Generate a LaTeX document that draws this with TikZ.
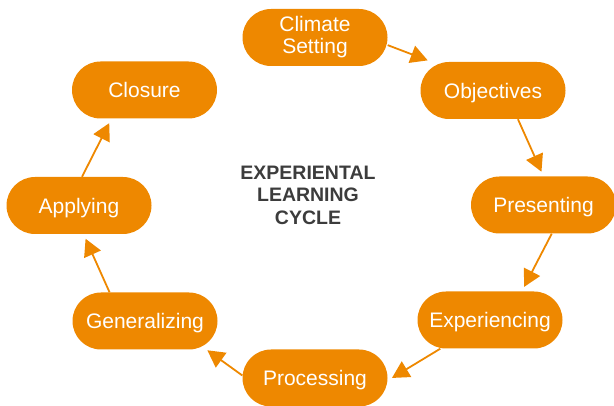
\documentclass[tikz,border=0pt]{standalone}
\usepackage{fontspec}
\setmainfont{Liberation Sans}
\usepackage{xcolor}
\usetikzlibrary{arrows.meta}

\definecolor{cycleorange}{RGB}{238,136,0}
\definecolor{titlegray}{RGB}{60,60,60}

\begin{document}
\begin{tikzpicture}[x=1pt, y=-1pt,
    pill/.style={draw=none, fill=cycleorange, text=white, rectangle,
      rounded corners=28.5pt, minimum width=145pt, minimum height=57pt,
      inner sep=0pt, align=center, font=\fontsize{21}{22}\selectfont},
    stage/.style={pill, text height=19pt, text depth=3pt},
    flow/.style={draw=cycleorange, line width=1.8pt,
      -{Triangle[length=17pt, width=18pt]}, shorten >=5pt}]
  % Fix the page size
  \useasboundingbox (0,0) rectangle (614,406);

  % Place the stages of the cycle
  \node[pill] (climate) at (315,37.5) {Climate\\Setting};
  \node[stage] (objectives) at (493,90.5) {Objectives};
  \node[stage] (presenting) at (543.5,205) {Presenting};
  \node[stage] (experiencing) at (490,320) {Experiencing};
  \node[stage] (processing) at (315,378) {Processing};
  \node[stage] (generalizing) at (145,321) {Generalizing};
  \node[stage] (applying) at (79,205.5) {Applying};
  \node[stage] (closure) at (144.5,90) {Closure};

  % Title in the middle
  \node[text=titlegray, align=center, font=\bfseries\fontsize{19.5}{22.5}\selectfont]
    (title) at (308,195) {EXPERIENTAL\\LEARNING\\CYCLE};

  % Arrows round the cycle
  \draw[flow, shorten >=4pt] (climate.-6) -- (objectives.155);
  \draw[flow] (objectives.-49) -- (presenting.north);
  \draw[flow] (presenting.-74) -- (experiencing.42);
  \draw[flow] (experiencing.210) -- (processing.-2);
  \draw[flow, shorten >=1pt] (processing.178) -- (generalizing.-25);
  \draw[flow] (generalizing.141) -- (applying.-81);
  \draw[flow] (applying.84) -- (closure.221);
\end{tikzpicture}
\end{document}
